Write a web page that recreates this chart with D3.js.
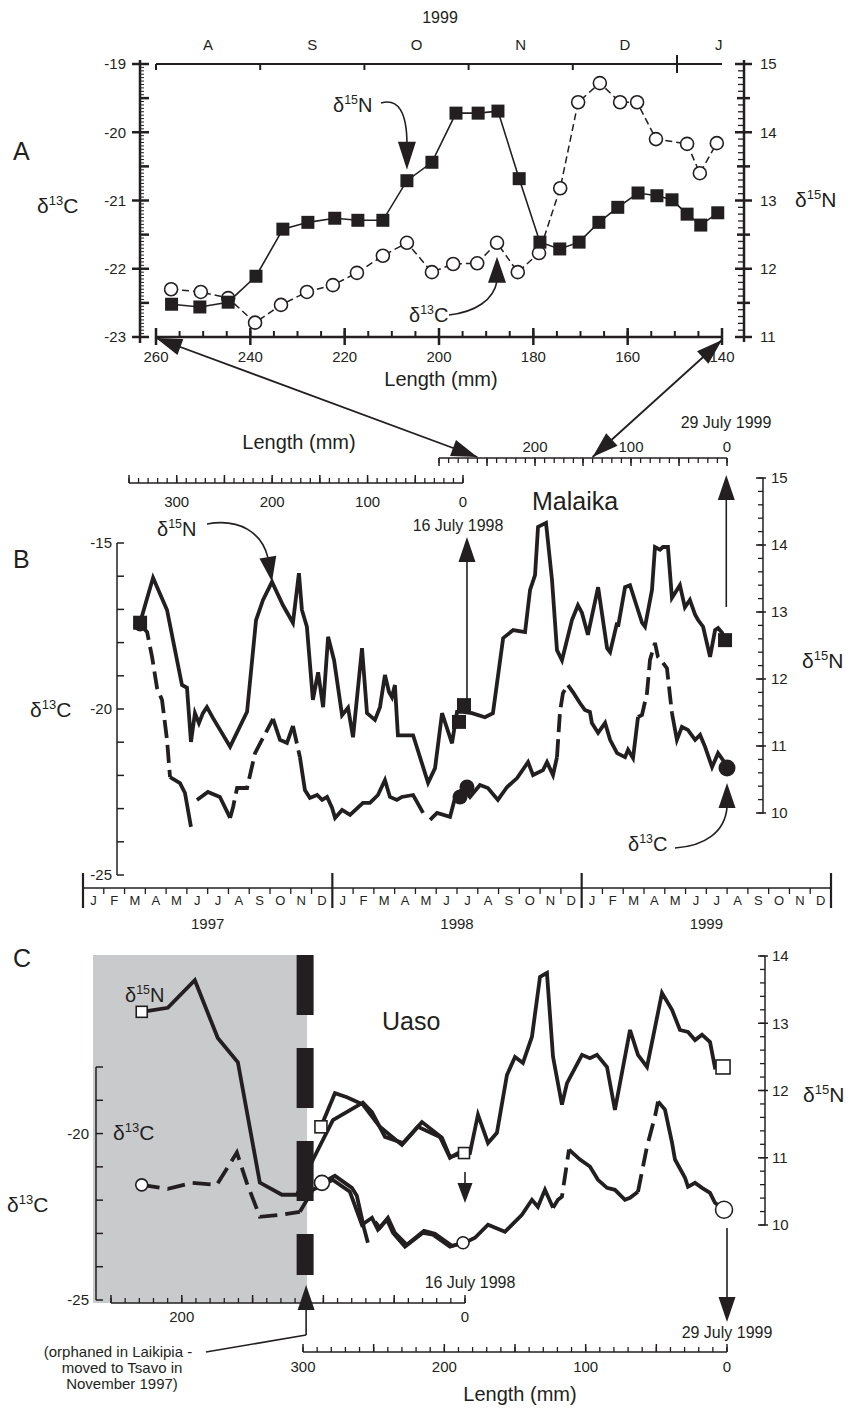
<!DOCTYPE html>
<html lang="en">
<head>
<meta charset="utf-8">
<title>Hair isotope profiles: Malaika and Uaso</title>
<script src="https://cdn.jsdelivr.net/npm/d3@7"></script>
<style>
  body { margin: 0; background: #fff; }
  svg text { font-family: "Liberation Sans", Arial, Helvetica, sans-serif; fill: #231f20; }
</style>
</head>
<body>
<script>
// ---------------- data ----------------
// Panel A : 1999 hair, length from root (mm)
var aLenN = [256.7,250.7,244.7,238.8,233.1,227.8,222.1,217.2,211.9,206.8,201.5,196.4,191.7,187.5,183.0,178.6,174.4,170.3,166.1,162.1,157.8,153.8,150.6,147.4,144.5,140.9];
var aN    = [11.48,11.44,11.51,11.89,12.58,12.68,12.74,12.71,12.71,13.29,13.56,14.28,14.28,14.31,13.32,12.39,12.29,12.39,12.68,12.90,13.11,13.07,13.01,12.80,12.64,12.82];
var aLenC = [256.8,250.5,244.7,239.0,233.5,228.0,222.5,217.4,211.9,206.8,201.5,197.0,191.9,187.7,183.3,178.8,174.3,170.5,165.9,161.6,158.0,154.0,147.4,144.7,141.1];
var aC    = [-22.30,-22.34,-22.43,-22.79,-22.53,-22.34,-22.24,-22.06,-21.81,-21.62,-22.05,-21.93,-21.92,-21.62,-22.05,-21.77,-20.82,-19.56,-19.28,-19.56,-19.56,-20.10,-20.17,-20.60,-20.16];
var aMonths = ["A","S","O","N","D","J"];
var aMonthPos = [0.5,1.5,2.5,3.5,4.5,5.4];

// Panel B : Malaika, decimal year
var bTN = [1997.229,1997.249,1997.281,1997.337,1997.369,1997.397,1997.417,1997.433,1997.449,1997.465,1997.481,1997.497,1997.521,1997.590,1997.658,1997.694,1997.722,1997.758,1997.802,1997.842,1997.866,1997.878,1997.898,1997.922,1997.943,1997.963,1997.983,1998.007,1998.039,1998.063,1998.083,1998.119,1998.139,1998.171,1998.191,1998.211,1998.227,1998.239,1998.251,1998.263,1998.324,1998.384,1998.412,1998.440,1998.480,1998.500,1998.524,1998.560,1998.612,1998.644,1998.685,1998.725,1998.773,1998.793,1998.813,1998.825,1998.857,1998.881,1998.901,1998.921,1998.961,1998.985,1999.001,1999.025,1999.066,1999.102,1999.114,1999.142,1999.146,1999.174,1999.194,1999.242,1999.254,1999.282,1999.294,1999.314,1999.326,1999.346,1999.362,1999.394,1999.414,1999.434,1999.455,1999.467,1999.487,1999.515,1999.535,1999.547,1999.563,1999.575];
var bN  = [12.84,13.10,13.51,13.03,12.43,11.91,11.87,11.06,11.49,11.34,11.49,11.58,11.42,10.99,11.51,12.88,13.18,13.45,13.10,12.84,13.58,13.03,12.78,11.69,12.10,11.58,12.63,12.28,11.46,11.57,11.13,12.46,11.49,11.39,11.58,12.06,11.81,11.73,11.91,11.16,11.16,10.45,10.67,11.49,11.04,11.51,11.51,11.49,11.43,11.49,12.61,12.73,12.70,13.33,13.55,14.27,14.33,13.48,12.43,12.28,12.88,13.10,12.99,12.66,13.37,12.46,12.40,12.84,12.78,13.37,13.40,12.84,12.78,13.33,13.97,13.93,13.97,13.97,13.21,13.40,13.07,13.18,12.96,12.88,12.78,12.33,12.73,12.76,12.69,12.58];
var bTC = [1997.229,1997.257,1997.277,1997.297,1997.317,1997.337,1997.349,1997.389,1997.409,1997.433,1997.457,1997.501,1997.549,1997.590,1997.602,1997.618,1997.658,1997.690,1997.722,1997.762,1997.790,1997.818,1997.842,1997.870,1997.890,1997.910,1997.939,1997.959,1997.979,1997.999,1998.011,1998.039,1998.071,1998.123,1998.151,1998.183,1998.211,1998.231,1998.259,1998.279,1998.324,1998.364,1998.392,1998.420,1998.472,1998.492,1998.524,1998.552,1998.592,1998.624,1998.664,1998.701,1998.741,1998.785,1998.805,1998.845,1998.861,1998.885,1998.901,1998.913,1998.925,1998.945,1998.965,1998.993,1999.013,1999.033,1999.041,1999.066,1999.094,1999.114,1999.142,1999.174,1999.186,1999.206,1999.226,1999.242,1999.262,1999.274,1999.294,1999.306,1999.326,1999.342,1999.362,1999.382,1999.402,1999.426,1999.455,1999.475,1999.495,1999.523,1999.547,1999.567,1999.583];
var bC  = [-17.47,-17.68,-18.43,-19.37,-19.73,-20.93,-22.05,-22.23,-22.53,-23.55,-22.74,-22.50,-22.65,-23.28,-22.95,-22.38,-22.38,-21.33,-20.87,-20.30,-20.93,-21.02,-20.51,-21.45,-22.44,-22.68,-22.59,-22.74,-22.65,-22.98,-23.28,-23.04,-23.19,-22.83,-22.83,-22.59,-22.14,-22.65,-22.74,-22.65,-22.59,-23.13,-23.34,-23.13,-23.25,-22.68,-22.38,-22.65,-22.29,-22.38,-22.74,-22.35,-22.08,-21.60,-21.99,-21.84,-21.60,-21.99,-21.45,-20.09,-19.52,-19.28,-19.49,-19.82,-20.03,-20.09,-20.42,-20.72,-20.42,-20.93,-21.33,-21.45,-21.23,-21.48,-20.24,-20.18,-19.52,-18.52,-18.01,-18.43,-18.61,-18.77,-20.12,-20.93,-20.54,-20.63,-20.93,-20.78,-21.14,-21.75,-21.33,-21.54,-21.78];
var bCDashed = [[0,6],[13,19],[22,23],[58,61],[74,82]];
var bCGaps = [[9,10],[41,42]];
var bJul98TN = [1998.528,1998.508], bJul98N = [11.61,11.36];
var bJul98TC = [1998.512,1998.540], bJul98C = [-22.65,-22.35];
var bMonths = ["J","F","M","A","M","J","J","A","S","O","N","D"];
var bYears = [1997,1998,1999];

// Panel C : Uaso, hair sampled 16 July 1998 (c1) and 29 July 1999 (c2)
var c1LenN = [228.3,209.9,190.8,174.6,160.4,144.9,129.3,118.7,107.4,93.3,72.1,65.7,56.5,43.8,30.4,16.3,10.6,0.7];
var c1N    = [13.17,13.23,13.64,12.78,12.42,10.63,10.45,10.45,10.97,11.56,11.82,11.68,11.31,11.22,11.53,11.30,11.01,11.07];
var c1LenC = [228.3,209.9,192.9,175.3,161.1,154.1,144.9,129.3,116.6,107.4,93.3,81.3,72.8,65.7,61.5,55.1,50.9,42.4,29.7,22.6,10.6,1.4];
var c1C    = [-21.54,-21.66,-21.48,-21.54,-20.57,-21.48,-22.50,-22.44,-22.35,-21.69,-21.39,-21.75,-22.74,-22.53,-22.89,-22.59,-22.98,-23.40,-22.98,-23.04,-23.40,-23.28];
var c1CDashed = [[0,8]];
var c2LenN = [287.3,277.4,268.9,257.6,245.6,230.0,218.7,203.1,196.0,190.4,181.9,176.2,169.1,162.8,155.7,150.0,144.4,138.0,132.3,127.4,123.1,116.8,113.2,102.6,97.0,92.0,84.9,79.3,68.6,63.0,56.6,46.0,38.9,33.3,27.6,22.6,17.7,12.0,8.5,2.8];
var c2N    = [11.46,11.96,11.90,11.79,11.46,11.19,11.46,11.31,11.00,11.07,11.07,11.64,11.22,11.37,12.23,12.50,12.41,12.80,13.69,13.75,12.50,11.79,12.11,12.53,12.48,12.53,12.35,11.71,12.90,12.53,12.35,13.45,13.20,12.90,12.87,12.75,12.83,12.72,12.34,12.35];
var c2LenC = [286.6,277.4,265.4,261.9,256.9,254.1,249.1,245.6,239.9,235.0,226.5,214.4,206.7,194.6,185.4,178.3,169.1,157.1,145.1,138.0,133.8,128.8,123.1,119.6,116.8,111.8,104.0,97.0,91.3,84.9,79.3,72.2,68.6,63.0,56.6,51.0,48.8,43.9,38.9,36.8,29.7,27.6,22.6,17.7,12.0,8.5,2.1];
var c2C    = [-21.48,-21.27,-21.63,-21.87,-22.83,-23.28,-22.65,-22.83,-22.53,-22.98,-23.34,-22.92,-23.01,-23.37,-23.28,-23.13,-22.74,-22.95,-22.44,-21.99,-22.20,-21.69,-22.23,-21.99,-21.90,-20.48,-20.78,-20.99,-21.39,-21.63,-21.69,-21.99,-21.93,-21.75,-20.39,-19.49,-19.04,-19.28,-20.27,-20.78,-21.33,-21.60,-21.48,-21.63,-21.78,-22.08,-22.29];
var c2CDashed = [[22,25],[33,36]];
var c2CGaps = [[5,6]];
var orphanLen = 298.5;   // on the 1999 length axis

// ---------------- helpers ----------------
var ink = "#231f20";
var svg = d3.select("body").append("svg").attr("width", 849).attr("height", 1411);

function seg(g, x1, y1, x2, y2, w) {
	g.append("line").attr("x1", x1).attr("y1", y1).attr("x2", x2).attr("y2", y2)
		.attr("stroke", ink).attr("stroke-width", w || 1.5);
}
// ticks perpendicular to an axis; horizontal axis -> scale gives x
function tickSet(g, scale, values, horizontal, at, from, to, w) {
	g.selectAll(null).data(values).enter().append("line")
		.attr("x1", d => horizontal ? scale(d) : at + from)
		.attr("x2", d => horizontal ? scale(d) : at + to)
		.attr("y1", d => horizontal ? at + from : scale(d))
		.attr("y2", d => horizontal ? at + to : scale(d))
		.attr("stroke", ink).attr("stroke-width", w || 1.5);
}
function labelSet(g, scale, values, horizontal, at, anchor, size, fmt) {
	g.selectAll(null).data(values).enter().append("text")
		.attr("x", d => horizontal ? scale(d) : at)
		.attr("y", d => horizontal ? at : scale(d))
		.attr("dy", horizontal ? 0 : "0.35em")
		.attr("text-anchor", anchor)
		.attr("font-size", size)
		.text(fmt || (d => d));
}
function txt(g, x, y, s, size, anchor) {
	return g.append("text").attr("x", x).attr("y", y).attr("font-size", size)
		.attr("text-anchor", anchor || "start").text(s);
}
function iso(g, x, y, mass, el, size) {
	var t = g.append("text").attr("x", x).attr("y", y).attr("font-size", size);
	t.append("tspan").text("δ");
	t.append("tspan").attr("font-size", size * 0.62).attr("dy", -size * 0.4).text(mass);
	t.append("tspan").attr("dy", size * 0.4).text(el);
}
function head(g, tipX, tipY, fromX, fromY, len, w) {
	var dx = tipX - fromX, dy = tipY - fromY, d = Math.hypot(dx, dy);
	dx /= d; dy /= d;
	var bx = tipX - dx * len, by = tipY - dy * len;
	g.append("path")
		.attr("d", "M" + tipX + "," + tipY + "L" + (bx - dy * w / 2) + "," + (by + dx * w / 2) +
			"L" + (bx + dy * w / 2) + "," + (by - dx * w / 2) + "Z")
		.attr("fill", ink);
}
function curve(g, d) {
	g.append("path").attr("d", d).attr("fill", "none").attr("stroke", ink).attr("stroke-width", 1.6);
}
// polyline split into solid / dashed runs, with optional gaps
function styledLine(g, xv, yv, sx, sy, dashed, gaps, width, pattern) {
	var runs = [], cur = null;
	for (var i = 0; i < xv.length - 1; i++) {
		if (gaps.some(r => i >= r[0] && i < r[1])) { cur = null; continue; }
		var isDash = dashed.some(r => i >= r[0] && i < r[1]);
		if (!cur || cur.dash !== isDash) { cur = {dash: isDash, idx: [i]}; runs.push(cur); }
		cur.idx.push(i + 1);
	}
	var line = d3.line().x(i => sx(xv[i])).y(i => sy(yv[i]));
	runs.forEach(function(r) {
		g.append("path").attr("d", line(r.idx)).attr("fill", "none")
			.attr("stroke", ink).attr("stroke-width", width)
			.attr("stroke-dasharray", r.dash ? pattern : null);
	});
}
function square(g, x, y, s, filled) {
	g.append("rect").attr("x", x - s / 2).attr("y", y - s / 2).attr("width", s).attr("height", s)
		.attr("fill", filled ? ink : "#fff").attr("stroke", ink).attr("stroke-width", filled ? 0 : 1.6);
}
function dot(g, x, y, r, filled) {
	g.append("circle").attr("cx", x).attr("cy", y).attr("r", r)
		.attr("fill", filled ? ink : "#fff").attr("stroke", ink).attr("stroke-width", filled ? 0 : 1.6);
}

// ================= Panel A =================
var gA = svg.append("g");
var xA  = d3.scaleLinear().domain([260, 140]).range([156, 722]);
var yAC = d3.scaleLinear().domain([-23, -19]).range([337, 64]);
var yAN = d3.scaleLinear().domain([11, 15]).range([337, 64]);
var mA  = d3.scaleLinear().domain([0, 1]).range([156, 260.2]);

// top month axis
seg(gA, 156, 64, 722, 64, 2);
tickSet(gA, mA, [0, 1, 2, 3, 4], true, 64, 0, 6, 2);
tickSet(gA, mA, [5], true, 64, -9, 9, 2);
gA.selectAll(null).data(aMonths).enter().append("text")
	.attr("x", (d, i) => mA(aMonthPos[i])).attr("y", 50)
	.attr("text-anchor", "middle").attr("font-size", 15).text(d => d);
txt(gA, 440, 23, "1999", 16, "middle");

// left d13C axis
seg(gA, 140, 60, 140, 343, 2.5);
tickSet(gA, yAC, d3.range(-23, -18.99, 0.05), false, 140, 0, 4, 1);
tickSet(gA, yAC, [-22.5, -21.5, -20.5, -19.5], false, 140, 0, 9, 2.5);
tickSet(gA, yAC, [-23, -22, -21, -20, -19], false, 140, -8, 9, 2.5);
labelSet(gA, yAC, [-23, -22, -21, -20, -19], false, 126, "end", 15);

// right d15N axis
seg(gA, 744, 60, 744, 342, 2.5);
tickSet(gA, yAN, d3.range(11, 15.01, 0.1), false, 744, -6, 0, 1.3);
tickSet(gA, yAN, [11.5, 12.5, 13.5, 14.5], false, 744, -7, 6, 2.5);
tickSet(gA, yAN, [11, 12, 13, 14, 15], false, 744, -9, 8, 2.5);
labelSet(gA, yAN, [11, 12, 13, 14, 15], false, 760, "start", 15);

// bottom length axis
seg(gA, 156, 337, 722, 337, 2.5);
tickSet(gA, xA, d3.range(140, 261, 5), true, 337, -6, 0, 2);
tickSet(gA, xA, d3.range(140, 261, 20), true, 337, -9, 8, 2.5);
labelSet(gA, xA, d3.range(140, 261, 20), true, 362, "middle", 15);
txt(gA, 441, 386, "Length (mm)", 20, "middle");

// series
styledLine(gA, aLenC, aC, xA, yAC, [[0, aC.length]], [], 1.5, "7,4");
aC.forEach((v, i) => dot(gA, xA(aLenC[i]), yAC(v), 6.5, false));
styledLine(gA, aLenN, aN, xA, yAN, [], [], 1.6, null);
aN.forEach((v, i) => square(gA, xA(aLenN[i]), yAN(v), 13, true));

// labels
txt(gA, 13, 160, "A", 25);
iso(gA, 37, 213, "13", "C", 21);
iso(gA, 795, 207, "15", "N", 21);
iso(gA, 333, 112, "15", "N", 20);
var tA1x = xA(aLenN[9]), tA1y = yAN(aN[9]) - 11;
curve(gA, "M381,103 C398,98 " + tA1x + ",112 " + tA1x + "," + (tA1y - 26));
head(gA, tA1x, tA1y, tA1x, tA1y - 30, 28, 18);
iso(gA, 409, 322, "13", "C", 20);
var tA2x = xA(aLenC[13]), tA2y = yAC(aC[13]) + 14;
curve(gA, "M449,315 C475,312 " + (tA2x - 3) + ",300 " + tA2x + "," + (tA2y + 24));
head(gA, tA2x, tA2y, tA2x, tA2y + 30, 26, 18);

// ================= Panel B =================
var gB = svg.append("g");
var xB   = d3.scaleLinear().domain([1997, 2000]).range([83, 831]);
var yBC  = d3.scaleLinear().domain([-25, -15]).range([875, 543]);
var yBN  = d3.scaleLinear().domain([10, 15]).range([813, 478]);
var xBL1 = d3.scaleLinear().domain([350, 0]).range([129, 463]);
var xBL2 = d3.scaleLinear().domain([300, 0]).range([439, 727]);

// connectors A -> B
[[260, 338], [140, 340]].forEach(function(p) {
	var x1 = xA(p[0]), y1 = p[1], x2 = xBL2(p[0]), y2 = 457;
	seg(gB, x1, y1, x2, y2, 1.8);
	head(gB, x1, y1, x2, y2, 26, 17);
	head(gB, x2, y2, x1, y1, 26, 17);
});

// upper length axis (29 July 1999 sample)
seg(gB, 439, 458, 727, 458, 1.5);
tickSet(gB, xBL2, d3.range(0, 301, 10), true, 458, 0, 5, 1.3);
tickSet(gB, xBL2, d3.range(0, 301, 50), true, 458, 0, 8, 1.5);
labelSet(gB, xBL2, [200, 100, 0], true, 452, "middle", 15);
txt(gB, 726, 428, "29 July 1999", 16, "middle");

// lower length axis (16 July 1998 sample)
seg(gB, 129, 483, 463, 483, 1.5);
tickSet(gB, xBL1, d3.range(0, 351, 10), true, 483, -5, 0, 1.3);
tickSet(gB, xBL1, d3.range(0, 351, 50), true, 483, -8, 0, 1.5);
labelSet(gB, xBL1, [300, 200, 100, 0], true, 507, "middle", 15);
txt(gB, 299, 449, "Length (mm)", 20, "middle");
txt(gB, 458, 531, "16 July 1998", 16, "middle");

// left d13C axis
seg(gB, 117, 543, 117, 875, 1.5);
tickSet(gB, yBC, d3.range(-25, -14.9, 1), false, 117, 0, 7, 1.5);
labelSet(gB, yBC, [-25, -20, -15], false, 112, "end", 15);

// right d15N axis
seg(gB, 763, 478, 763, 813, 1.5);
tickSet(gB, yBN, d3.range(10, 15.01, 0.2), false, 763, -5, 0, 1.3);
tickSet(gB, yBN, [10, 11, 12, 13, 14, 15], false, 763, -7, 3, 1.5);
labelSet(gB, yBN, [10, 11, 12, 13, 14, 15], false, 771, "start", 15);

// date axis
seg(gB, 83, 888, 831, 888, 1.5);
var bMonthTicks = d3.range(0, 36).filter(m => m % 12 !== 0).map(m => 1997 + m / 12);
tickSet(gB, xB, bMonthTicks, true, 888, 0, 6, 1.3);
tickSet(gB, xB, [1997, 1998, 1999, 2000], true, 888, -15, 20, 2.2);
bYears.forEach(function(y) {
	gB.selectAll(null).data(bMonths).enter().append("text")
		.attr("x", (d, i) => xB(y + (i + 0.5) / 12)).attr("y", 905)
		.attr("text-anchor", "middle").attr("font-size", 13).text(d => d);
});
labelSet(gB, xB, bYears.map(y => y + 0.5), true, 929, "middle", 15, d => Math.floor(d));

// series
styledLine(gB, bTN, bN, xB, yBN, [], [], 3.8, null);
styledLine(gB, bTC, bC, xB, yBC, bCDashed, bCGaps, 3.8, "18,7");
square(gB, xB(bTN[0]), yBN(bN[0]), 14, true);
dot(gB, xB(bTC[0]), yBC(bC[0]), 6.5, true);
bJul98N.forEach((v, i) => square(gB, xB(bJul98TN[i]), yBN(v), 14, true));
bJul98C.forEach((v, i) => dot(gB, xB(bJul98TC[i]), yBC(v), 7.5, true));
var nl = bN.length - 1, cl = bC.length - 1;
square(gB, xB(bTN[nl]), yBN(bN[nl]), 14, true);
dot(gB, xB(bTC[cl]), yBC(bC[cl]), 8.5, true);

// sampling-date arrows
var xj98 = xB(1998.54);
seg(gB, xj98, yBN(bJul98N[0]) - 5, xj98, 560, 1.6);
head(gB, xj98, 537, xj98, 600, 25, 17);
var xj99 = xB(1999.58);
seg(gB, xj99, 607, xj99, 498, 1.6);
head(gB, xj99, 475, xj99, 600, 25, 17);

// labels
txt(gB, 13, 568, "B", 25);
txt(gB, 532, 510, "Malaika", 25);
iso(gB, 30, 717, "13", "C", 21);
iso(gB, 802, 668, "15", "N", 21);
iso(gB, 157, 536, "15", "N", 20);
var tB1x = xB(bTN[17]), tB1y = yBN(bN[17]);
curve(gB, "M207,524 C240,518 262,533 " + (tB1x - 4) + "," + (tB1y - 24));
head(gB, tB1x, tB1y, tB1x - 5, tB1y - 30, 25, 17);
iso(gB, 628, 851, "13", "C", 20);
var tB2x = xB(bTC[cl]), tB2y = yBC(bC[cl]) + 15;
curve(gB, "M675,848 C705,846 " + (tB2x - 2) + ",832 " + tB2x + "," + (tB2y + 24));
head(gB, tB2x, tB2y, tB2x, tB2y + 30, 25, 17);

// ================= Panel C =================
var gC = svg.append("g");
var xC1 = d3.scaleLinear().domain([250, 0]).range([111, 465]);
var xC2 = d3.scaleLinear().domain([300, 0]).range([303, 727]);
var yCC = d3.scaleLinear().domain([-25, -18]).range([1300, 1067]);
var yCN = d3.scaleLinear().domain([10, 14]).range([1225, 956]);
var xOrph = xC2(orphanLen);

gC.append("rect").attr("x", 93).attr("y", 955).attr("width", xOrph + 2 - 93).attr("height", 348)
	.attr("fill", "#c9cacc");

// left d13C axis
seg(gC, 96, 1067, 96, 1300, 1.5);
tickSet(gC, yCC, d3.range(-25, -17.9, 1), false, 96, 0, 7, 1.5);
labelSet(gC, yCC, [-25, -20], false, 89, "end", 15);

// right d15N axis
seg(gC, 765, 956, 765, 1225, 1.5);
tickSet(gC, yCN, d3.range(10, 14.01, 0.2), false, 765, -5, 0, 1.3);
tickSet(gC, yCN, [10, 11, 12, 13, 14], false, 765, -7, 3, 1.5);
labelSet(gC, yCN, [10, 11, 12, 13, 14], false, 772, "start", 15);

// length axis of the 1998 sample
seg(gC, 111, 1303, 465, 1303, 1.5);
tickSet(gC, xC1, d3.range(0, 251, 10), true, 1303, -5, 0, 1.3);
tickSet(gC, xC1, d3.range(0, 251, 50), true, 1303, -8, 0, 1.5);
labelSet(gC, xC1, [200, 0], true, 1322, "middle", 15);
txt(gC, 470, 1288, "16 July 1998", 16, "middle");

// length axis of the 1999 sample
seg(gC, 303, 1352, 727, 1352, 1.5);
tickSet(gC, xC2, d3.range(0, 301, 10), true, 1352, -5, 0, 1.3);
tickSet(gC, xC2, d3.range(0, 301, 50), true, 1352, -8, 0, 1.5);
labelSet(gC, xC2, [300, 200, 100, 0], true, 1372, "middle", 15);
txt(gC, 727, 1338, "29 July 1999", 16, "middle");
txt(gC, 520, 1401, "Length (mm)", 20, "middle");

// series
styledLine(gC, c1LenN, c1N, xC1, yCN, [], [], 3.8, null);
styledLine(gC, c1LenC, c1C, xC1, yCC, c1CDashed, [], 3.8, "18,8");
styledLine(gC, c2LenN, c2N, xC2, yCN, [], [], 3.8, null);
styledLine(gC, c2LenC, c2C, xC2, yCC, c2CDashed, c2CGaps, 3.8, "18,8");

// orphan / translocation bar
gC.append("line").attr("x1", xOrph).attr("x2", xOrph).attr("y1", 955).attr("y2", 1275)
	.attr("stroke", ink).attr("stroke-width", 17).attr("stroke-dasharray", "60,33");

// markers
var n1 = c1N.length - 1, k1 = c1C.length - 1, n2 = c2N.length - 1, k2 = c2C.length - 1;
square(gC, xC1(c1LenN[0]), yCN(c1N[0]), 11, false);
dot(gC, xC1(c1LenC[0]), yCC(c1C[0]), 6, false);
square(gC, xC1(c1LenN[n1]), yCN(c1N[n1]), 11, false);
dot(gC, xC1(c1LenC[k1]), yCC(c1C[k1]), 6, false);
square(gC, xC2(c2LenN[0]), yCN(c2N[0]), 12, false);
dot(gC, xC2(c2LenC[0]), yCC(c2C[0]), 7.5, false);
square(gC, xC2(c2LenN[n2]), yCN(c2N[n2]), 14, false);
dot(gC, xC2(c2LenC[k2]), yCC(c2C[k2]), 8.5, false);

// arrows
var x98 = xC1(0);
seg(gC, x98, 1172, x98, 1186, 1.6);
head(gC, x98, 1203, x98, 1170, 20, 15);
var x99 = xC2(0);
seg(gC, x99, 1228, x99, 1300, 1.6);
head(gC, x99, 1322, x99, 1260, 25, 17);
seg(gC, xOrph + 1, 1305, xOrph + 1, 1335, 1.6);
head(gC, xOrph + 1, 1285, xOrph + 1, 1330, 25, 17);
seg(gC, xOrph + 1, 1335, 206, 1352, 1.6);

// labels
txt(gC, 13, 967, "C", 25);
txt(gC, 382, 1030, "Uaso", 25);
iso(gC, 125, 1002, "15", "N", 20);
iso(gC, 113, 1140, "13", "C", 21);
iso(gC, 7, 1212, "13", "C", 21);
iso(gC, 803, 1102, "15", "N", 21);
txt(gC, 118, 1357, "(orphaned in Laikipia -", 15, "middle");
txt(gC, 122, 1373, "moved to Tsavo in", 15, "middle");
txt(gC, 122, 1389, "November 1997)", 15, "middle");
</script>
</body>
</html>
